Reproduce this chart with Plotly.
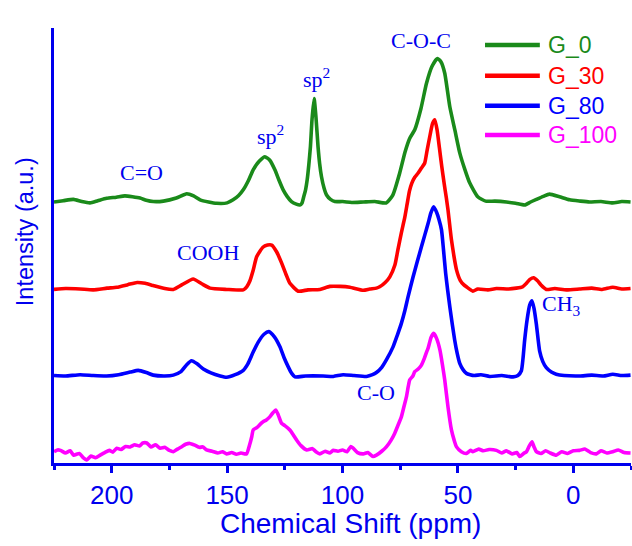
import plotly.graph_objects as go

# ---- 13C NMR spectra, intensities relative to each baseline (a.u.) ----
ppm_g0 = [225, 221, 216.6, 213, 209.4, 206, 202.2, 198, 194.3, 191, 187.7, 185, 182, 177.6, 172,
          167.5, 164.5, 161.7, 158, 154.5, 150, 147.4, 145, 143, 140.7, 138.7, 136, 133.6, 131.5,
          129.3, 127.5, 125.7, 124, 122.1, 120, 118.5, 117.6, 116.8, 116, 115.3, 114.6, 113.9,
          113.2, 112.3, 111.5, 110.6, 109.9, 109.1, 108, 106.9, 105.2, 103.3, 100, 96, 91, 86, 81,
          78.2, 75.2, 72.9, 70.9, 68.7, 66, 63.6, 61.2, 58.9, 57.3, 55.7, 53.5, 51.3, 49.2, 47,
          44.9, 41.4, 38, 34, 29, 25, 21.1, 18.5, 16, 13, 10.3, 6, 1.6, -3, -7, -12, -17, -21, -24.8]
int_g0 = [0.0, 0.3, 0.6, 0.1, -0.2, 0.3, 0.85, 1.1, 1.4, 1.2, 0.9, 0.4, 0.1, 0.2, 0.9,
          1.9, 1.4, 0.5, 0.0, -0.3, -0.2, 0.5, 1.5, 2.8, 5.0, 7.4, 9.4, 10.4, 9.6,
          7.4, 5.0, 2.8, 1.3, 0.1, -0.5, -0.7, -0.3, 1.2, 2.8, 5.1, 8.5, 12.7,
          19.0, 23.8, 19.5, 12.7, 8.8, 5.8, 3.2, 1.6, 0.6, 0.1, 0.1, -0.1, 0.0, 0.1, -0.2,
          1.6, 6.7, 11.5, 14.6, 16.6, 21.5, 27.3, 31.2, 33.0, 32.2, 29.6, 21.9, 16.5, 11.3, 7.5,
          4.4, 1.2, 0.2, 0.2, 0.0, -0.3, -0.7, 0.0, 0.6, 1.3, 1.8, 1.2, 0.5, 0.2, 0.0, 0.1, -0.2, 0.1, 0.0]

ppm_g30 = [225, 220, 213.7, 208, 202, 197.8, 193, 189, 185.5, 182, 177, 173.3, 169.5, 164.7, 161,
           157.4, 150.2, 143, 141.5, 140.1, 138.7, 137.2, 134.5, 132.5, 130.7, 128.5, 126.4, 124.5,
           122.8, 119.2, 115, 109.8, 105.5, 101, 96.8, 91, 88.2, 85.3, 83.9, 81.5, 79.5, 77.3, 76,
           74.5, 73, 72, 71, 70, 68.7, 67.3, 65.8, 64.4, 63.3, 62.2, 61, 60, 59, 58, 57, 56, 55,
           54.3, 53.5, 52.8, 51.7, 50.6, 49, 47.5, 46.3, 43.5, 41.4, 37, 33.3, 28, 24.7, 22, 20.5,
           18.8, 17.2, 15.5, 14, 11.7, 8, 3, -2.7, -8, -12.5, -17.1, -21, -24.8]
int_g30 = [-0.1, 0.1, 0.0, -0.2, 0.2, 0.4, 1.0, 1.5, 1.3, 0.8, 0.1, -0.1, 1.0, 2.3, 1.2,
           0.2, -0.1, -0.2, 0.5, 1.9, 4.3, 7.4, 9.6, 10.1, 10.1, 8.5, 6.0, 3.4,
           1.3, -0.5, -0.2, -0.1, 0.6, 0.6, 0.4, -0.3, 0.0, 0.2, 0.5, 1.5, 2.8, 5.5, 9.0,
           12.9, 16.5, 19.5, 22.5, 24.3, 25.7, 26.6, 27.8, 28.9, 32.0, 35.0, 38.0, 38.9, 36.5, 32.4, 28.2, 24.4, 20.9,
           18.2, 14.5, 11.3, 7.5, 4.4, 2.0, 1.0, 0.5, -0.5, 0.0, -0.2, 0.1, 0.0, 0.2, 0.5, 1.2,
           2.2, 2.6, 1.9, 0.9, -0.1, 0.1, -0.2, 0.0, 0.2, -0.1, 0.4, 0.0, 0.1]

ppm_g80 = [225, 220, 213.7, 208, 202.2, 197, 192, 188.5, 185, 182, 177, 173.3, 170, 167.5, 165.4,
           163, 160.3, 157, 153, 150.2, 146.5, 143, 141, 138.7, 136.5, 134, 131.9, 129.5, 127.1,
           125.3, 123.5, 122, 120.6, 116, 108.4, 104, 99.7, 95, 89.6, 87, 85.3, 83, 81, 78.1, 76.3,
           74.5, 73, 71.6, 69.4, 67.6, 65.8, 64.3, 62.9, 61.7, 60.5, 59.2, 58.2, 57.1, 56.2, 55.3,
           54.4, 53.5, 52.4, 51.4, 50.3, 49.2, 47.7, 46.3, 43, 40, 36.2, 31, 26.1, 24, 22.5, 21.8,
           21.1, 20, 18.9, 17.9, 17, 16, 14.6, 13.2, 11.7, 9.5, 7.4, 4, -2.7, -8, -13, -17.1, -21, -24.8]
int_g80 = [0.1, 0.0, 0.3, 0.1, 0.0, 0.3, 0.9, 1.3, 0.8, 0.2, 0.0, 0.2, 1.0, 2.6, 3.5,
           2.8, 1.6, 0.7, 0.0, -0.3, 0.3, 1.3, 2.8, 5.5, 7.8, 9.6, 10.2, 9.0, 6.7,
           4.2, 2.1, 0.6, -0.2, 0.0, 0.0, -0.1, 0.3, 0.1, -0.1, 0.3, 0.8, 2.0, 3.7, 6.7, 9.3,
           12.1, 15.0, 18.2, 22.8, 26.3, 29.7, 32.5, 35.1, 37.5, 38.9, 37.6, 36.0, 33.6, 28.8, 23.6,
           19.6, 15.9, 11.8, 8.3, 5.2, 2.9, 1.4, 0.6, 0.1, 0.3, -0.1, 0.1, -0.2, 0.1, 1.2, 4.0,
           8.1, 13.0, 16.3, 17.3, 15.5, 11.9, 5.8, 3.3, 1.9, 0.9, 0.4, 0.1, 0.0, 0.2, 0.0, 0.4, 0.1, 0.2]

ppm_g100 = [225, 223.5, 222.2, 220, 218, 216.5, 214, 212.5, 210.8, 209, 207, 205, 203, 201, 199.5,
            197.8, 196, 194, 192, 190, 188, 186.5, 184.8, 183, 181, 179, 177, 175, 173.3, 171.5,
            169.5, 168, 166.1, 164, 162, 160.5, 158.9, 156.5, 154, 152, 150.2, 148, 146, 144, 141.6,
            140.3, 139.3, 138.7, 137, 135.5, 134.4, 133, 131.5, 130.2, 128.9, 127.8, 126.4, 125,
            122.8, 121.5, 119.9, 118, 115.5, 113, 111.5, 109.8, 107.5, 105.5, 104, 102, 100, 98,
            96.4, 95.4, 93.5, 91, 89, 86.8, 85.3, 83, 81, 79, 77.4, 76, 74.5, 73.3, 72.3, 71.5, 70.9,
            69.5, 68.7, 67.2, 65.8, 64.5, 63.5, 62.9, 61.6, 60.5, 59.2, 57.8, 56.7, 55.7, 54.3, 52.8,
            51.6, 50.6, 48.5, 46.3, 44.5, 43.5, 41, 39, 36.5, 33.3, 31, 29, 26.5, 24.5, 23.2, 21.5,
            20.3, 19, 17.9, 17, 16, 14, 12, 10, 7.4, 5, 2.5, 0, -2.7, -5, -7.5, -10, -12, -14.5,
            -17.1, -19.5, -22, -24.8]
int_g100 = [0.0, 0.4, 0.3, -0.3, 0.2, -0.8, -0.4, -1.3, -1.9, -1.0, -1.4, -0.8, -0.2, 0.3, -0.1,
            0.8, 0.5, 1.2, 1.1, 1.6, 1.3, 2.0, 2.0, 1.1, 1.6, 0.8, 1.0, 0.3, 0.0, 0.6,
            1.2, 1.7, 1.9, 1.5, 1.0, 1.1, 0.4, 0.1, -0.3, 0.0, -0.5, -0.2, -0.6, -0.3, -0.5,
            1.5, 3.5, 5.0, 5.6, 6.4, 6.9, 7.3, 8.0, 8.9, 9.6, 8.4, 6.5, 6.0,
            5.0, 4.0, 2.7, 1.4, 0.4, 0.7, 0.0, -0.5, 0.1, -0.3, 0.3, 0.1, 0.4, 0.0,
            1.2, 0.8, -0.2, -0.5, -0.2, -1.1, -0.8, 0.1, 1.1, 2.6, 4.2, 6.0, 8.0, 10.5, 12.6, 15.0, 16.5,
            17.4, 18.4, 19.0, 19.9, 21.5, 23.0, 23.8, 26.3, 27.2, 26.0, 23.4, 20.0, 16.5, 10.3, 5.0,
            2.6, 1.1, 0.0, -0.4, 0.3, 0.0, 0.6, 0.2, 0.5, 0.3, -0.3, 0.2, -0.5, -0.2, -1.1, -0.4,
            0.0, 1.4, 2.3, 1.1, 0.0, -0.4, 0.2, -0.3, -0.8, 0.0, -0.4, 0.2, 0.3, 0.6, -0.2, -0.5, 0.2, -0.3,
            0.0, 0.4, -0.2, -0.3]

sample_names = ["G_0", "G_30", "G_80", "G_100"]
x_ticks = [200, 150, 100, 50, 0]

# peak assignments: (label, ppm, intensity level)
peak_labels = [
    ("C=O", 187.3, 66.7),
    ("sp<sup>2</sup>", 131.4, 75.5),
    ("sp<sup>2</sup>", 111.1, 88.6),
    ("C-O-C", 66.2, 97.2),
    ("COOH", 158.4, 48.5),
    ("C-O", 85.6, 16.1),
]

# ---- styling ----
AX = "#0000EE"
colors = ["#1a8a1a", "#ff0000", "#0000ff", "#ff00ff"]
stack_offsets = [60, 40, 20, 2.6]

spectra = [(ppm_g0, int_g0), (ppm_g30, int_g30), (ppm_g80, int_g80), (ppm_g100, int_g100)]

fig = go.Figure()
for name, (ppm, inten), off, col in zip(sample_names, spectra, stack_offsets, colors):
    fig.add_trace(go.Scatter(
        x=ppm, y=[v + off for v in inten], mode="lines", name=name,
        line=dict(color=col, width=3.6, shape="spline", smoothing=0.5),
        showlegend=False, hoverinfo="skip",
    ))

serif = dict(family="Liberation Serif", size=22, color=AX)
annotations = []
for text, px, py in peak_labels:
    annotations.append(dict(x=px, y=py, xref="x", yref="y", text=text, showarrow=False,
                            font=serif, xanchor="center", yanchor="middle"))
annotations.append(dict(x=14.6, y=36.3, xref="x", yref="y", text="CH<sub>3</sub>",
                        showarrow=False, font=serif, xanchor="left", yanchor="middle"))

# axis titles
annotations.append(dict(x=0.513, y=-0.14, xref="paper", yref="paper", text="Chemical Shift (ppm)",
                        showarrow=False, font=dict(family="Liberation Sans", size=28, color=AX),
                        xanchor="center", yanchor="middle"))
annotations.append(dict(x=-0.05, y=0.531, xref="paper", yref="paper", text="Intensity (a.u.)",
                        textangle=-90, showarrow=False,
                        font=dict(family="Liberation Sans", size=23.5, color=AX),
                        xanchor="center", yanchor="middle"))

# legend drawn as line samples with coloured labels
shapes = []
leg_rows = [0.961, 0.890, 0.821, 0.754]
for name, col, ly in zip(sample_names, colors, leg_rows):
    shapes.append(dict(type="line", xref="paper", yref="paper", x0=0.747, x1=0.842, y0=ly, y1=ly,
                       line=dict(color=col, width=4.5)))
    annotations.append(dict(x=0.853, y=ly, xref="paper", yref="paper", text=name, showarrow=False,
                            font=dict(family="Liberation Sans", size=23, color=col),
                            xanchor="left", yanchor="middle"))

fig.update_layout(
    width=632, height=546,
    margin=dict(l=54, r=1, t=28, b=83),
    paper_bgcolor="white", plot_bgcolor="white",
    annotations=annotations, shapes=shapes,
    xaxis=dict(range=[225, -25], tickvals=x_ticks, ticktext=[str(t) for t in x_ticks],
               ticks="outside", ticklen=7, tickwidth=2.5, tickcolor=AX,
               showline=True, linecolor=AX, linewidth=3, showgrid=False, zeroline=False,
               tickfont=dict(family="Liberation Sans", size=26, color=AX),
               minor=dict(dtick=25, tick0=0, ticks="outside", ticklen=4, tickwidth=2.5, tickcolor=AX)),
    yaxis=dict(range=[0, 100], showline=True, linecolor=AX, linewidth=3, showticklabels=False,
               ticks="", showgrid=False, zeroline=False),
)

fig.write_html("out.html")
